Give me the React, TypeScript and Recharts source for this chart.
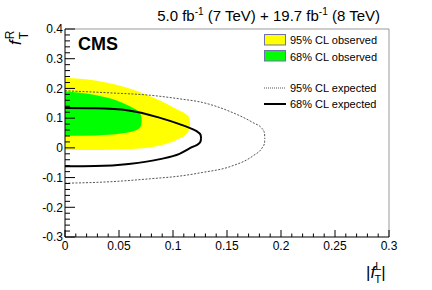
import React from "react";
import { ComposedChart, Area, XAxis, YAxis, ReferenceLine, Customized } from "recharts";

// f_T^L (x) vs f_T^R range [low, high] for each contour
const obs95 = [
  { x: 0, r: [-0.007, 0.235] },
  { x: 0.028, r: [-0.007, 0.227] },
  { x: 0.059, r: [-0.004, 0.201] },
  { x: 0.09, r: [0.01, 0.156] },
  { x: 0.105, r: [0.03, 0.127] },
  { x: 0.112, r: [0.045, 0.113] },
  { x: 0.1148, r: [0.058, 0.103] },
  { x: 0.116, r: [0.081, 0.081] },
];
const obs68 = [
  { x: 0, r: [0.041, 0.19] },
  { x: 0.028, r: [0.042, 0.178] },
  { x: 0.053, r: [0.049, 0.152] },
  { x: 0.063, r: [0.056, 0.134] },
  { x: 0.0685, r: [0.065, 0.12] },
  { x: 0.0705, r: [0.077, 0.108] },
  { x: 0.071, r: [0.092, 0.092] },
];
const exp95 = [
  { x: 0, r: [-0.119, 0.192] },
  { x: 0.042, r: [-0.114, 0.185] },
  { x: 0.079, r: [-0.104, 0.177] },
  { x: 0.106, r: [-0.095, 0.165] },
  { x: 0.127, r: [-0.083, 0.153] },
  { x: 0.153, r: [-0.063, 0.122] },
  { x: 0.174, r: [-0.027, 0.085] },
  { x: 0.1825, r: [0.0, 0.065] },
  { x: 0.1847, r: [0.015, 0.05] },
  { x: 0.185, r: [0.033, 0.033] },
];
const exp68 = [
  { x: 0, r: [-0.062, 0.134] },
  { x: 0.028, r: [-0.061, 0.133] },
  { x: 0.059, r: [-0.054, 0.126] },
  { x: 0.088, r: [-0.038, 0.101] },
  { x: 0.106, r: [-0.02, 0.08] },
  { x: 0.118, r: [0.003, 0.063] },
  { x: 0.1235, r: [0.013, 0.052] },
  { x: 0.1255, r: [0.022, 0.044] },
  { x: 0.126, r: [0.033, 0.033] },
];

const xMajor = [0, 0.05, 0.1, 0.15, 0.2, 0.25, 0.3];
const xMajorLabels = ["0", "0.05", "0.1", "0.15", "0.2", "0.25", "0.3"];
const xMinor = [
  0.01, 0.02, 0.03, 0.04, 0.06, 0.07, 0.08, 0.09, 0.11, 0.12, 0.13, 0.14,
  0.16, 0.17, 0.18, 0.19, 0.21, 0.22, 0.23, 0.24, 0.26, 0.27, 0.28, 0.29,
];
const yMajor = [-0.3, -0.2, -0.1, 0, 0.1, 0.2, 0.3, 0.4];
const yMajorLabels = ["-0.3", "-0.2", "-0.1", "0", "0.1", "0.2", "0.3", "0.4"];
const yMinor = [
  -0.28, -0.26, -0.24, -0.22, -0.18, -0.16, -0.14, -0.12, -0.08, -0.06, -0.04,
  -0.02, 0.02, 0.04, 0.06, 0.08, 0.12, 0.14, 0.16, 0.18, 0.22, 0.24, 0.26,
  0.28, 0.32, 0.34, 0.36, 0.38,
];

const titleParts = ["5.0 fb", "-1", " (7 TeV) + 19.7 fb", "-1", " (8 TeV)"];
const legendLabels = ["95% CL observed", "68% CL observed", "95% CL expected", "68% CL expected"];

const FONT = "'Liberation Sans', Arial, Helvetica, sans-serif";

const majorIndex = (arr: number[], v: number) => arr.findIndex((m) => Math.abs(m - v) < 1e-9);

const XTick = (props: any) => {
  const { x, y, payload } = props;
  const i = majorIndex(xMajor, payload.value);
  const major = i >= 0;
  return (
    <g>
      <line x1={x} x2={x} y1={y} y2={y - (major ? 7 : 3.5)} stroke="#000" strokeWidth={1} />
      {major && (
        <text x={x} y={y + 12.5} textAnchor="middle" fontSize={12} fontFamily={FONT} fill="#000">
          {xMajorLabels[i]}
        </text>
      )}
    </g>
  );
};

const YTick = (props: any) => {
  const { x, y, payload } = props;
  const i = majorIndex(yMajor, payload.value);
  const major = i >= 0;
  return (
    <g>
      <line x1={x} x2={x + (major ? 10 : 5)} y1={y} y2={y} stroke="#000" strokeWidth={1} />
      {major && (
        <text x={x - 2} y={y + 4.3} textAnchor="end" fontSize={12} fontFamily={FONT} fill="#000">
          {yMajorLabels[i]}
        </text>
      )}
    </g>
  );
};

const Overlay = () => (
  <g fontFamily={FONT} fill="#000">
    <text x={380} y={21} fontSize={15} textAnchor="end">
      <tspan>{titleParts[0]}</tspan>
      <tspan fontSize={10} dy={-6}>{titleParts[1]}</tspan>
      <tspan dy={6}>{titleParts[2]}</tspan>
      <tspan fontSize={10} dy={-6}>{titleParts[3]}</tspan>
      <tspan dy={6}>{titleParts[4]}</tspan>
    </text>
    <text x={78} y={50} fontSize={18} fontWeight="bold">CMS</text>
    {/* legend */}
    <rect x={264.5} y={34.5} width={21} height={10.5} fill="#ffff00" stroke="#7070b0" />
    <rect x={264.5} y={50.5} width={21} height={10.5} fill="#00ff00" stroke="#7070b0" />
    <line x1={264} x2={286} y1={88} y2={88} stroke="#555" strokeWidth={1} strokeDasharray="1 1" />
    <line x1={264} x2={286} y1={104} y2={104} stroke="#000" strokeWidth={2} />
    <text x={290} y={44} fontSize={11}>{legendLabels[0]}</text>
    <text x={290} y={60.5} fontSize={11}>{legendLabels[1]}</text>
    <text x={290} y={92} fontSize={11}>{legendLabels[2]}</text>
    <text x={290} y={108} fontSize={11}>{legendLabels[3]}</text>
    {/* y title */}
    <text transform="translate(21,45) rotate(-90)" fontSize={17}>
      <tspan fontStyle="italic">f</tspan>
      <tspan fontSize={12} dy={-7} dx={1}>R</tspan>
      <tspan fontSize={12} dx={-8.5} dy={14}>T</tspan>
    </text>
    {/* x title */}
    <text x={366} y={278} fontSize={17}>
      <tspan>|</tspan>
      <tspan fontStyle="italic">f</tspan>
      <tspan fontSize={11} dy={-8}>L</tspan>
      <tspan fontSize={11} dx={-6} dy={13}>T</tspan>
      <tspan dy={-5}>|</tspan>
    </text>
  </g>
);

export default function App() {
  return (
    <div style={{ position: "absolute", left: 0, top: 0, width: 432, height: 290, background: "#fff" }}>
      <ComposedChart width={432} height={290} margin={{ top: 29, right: 43, bottom: 0, left: 0 }}>
        <XAxis
          type="number"
          dataKey="x"
          domain={[0, 0.3]}
          ticks={[...xMajor, ...xMinor]}
          interval={0}
          allowDataOverflow
          height={53}
          tickSize={0}
          tickMargin={0}
          tickLine={false}
          axisLine={{ stroke: "#000", strokeWidth: 1 }}
          tick={<XTick />}
        />
        <YAxis
          type="number"
          domain={[-0.3, 0.4]}
          ticks={[...yMajor, ...yMinor]}
          interval={0}
          allowDataOverflow
          width={65}
          tickSize={0}
          tickMargin={0}
          tickLine={false}
          axisLine={{ stroke: "#000", strokeWidth: 1 }}
          tick={<YTick />}
        />
        <ReferenceLine y={0.4} stroke="#999" strokeWidth={1} />
        <ReferenceLine x={0.3} stroke="#999" strokeWidth={1} />
        <Area data={obs95} dataKey="r" type="monotone" fill="#ffff00" fillOpacity={1} stroke="none" isAnimationActive={false} />
        <Area data={obs68} dataKey="r" type="monotone" fill="#00ff00" fillOpacity={1} stroke="none" isAnimationActive={false} />
        <Area data={exp95} dataKey="r" type="monotone" fill="none" stroke="#555" strokeWidth={1} strokeDasharray="2 1.5" isAnimationActive={false} />
        <Area data={exp68} dataKey="r" type="monotone" fill="none" stroke="#000" strokeWidth={2} isAnimationActive={false} />
        <Customized component={Overlay} />
      </ComposedChart>
    </div>
  );
}
